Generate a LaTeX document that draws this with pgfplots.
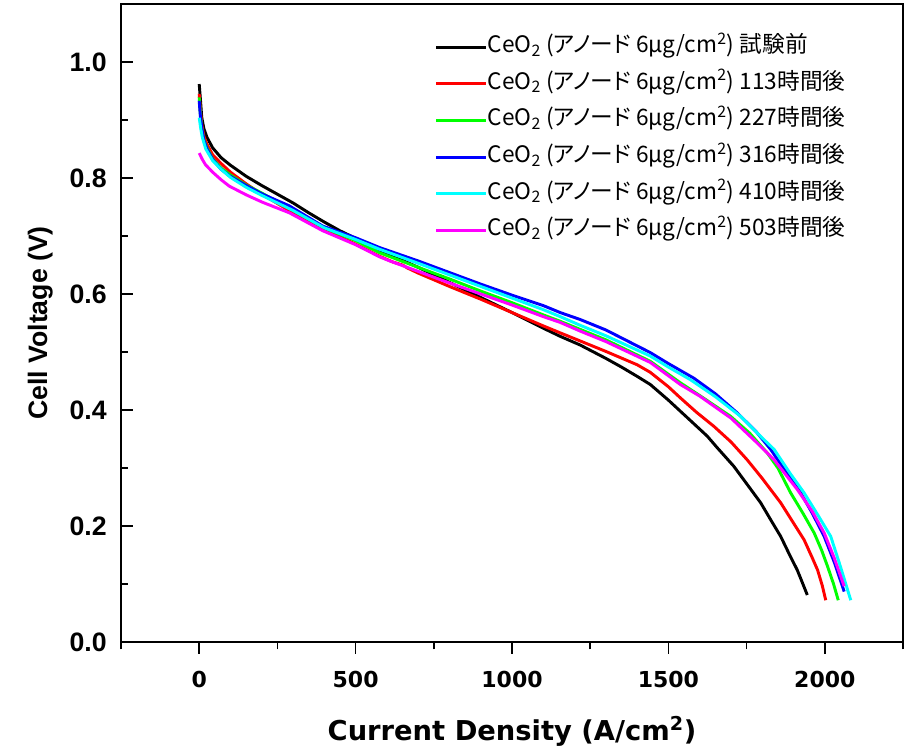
\documentclass[border=0pt]{standalone}
\usepackage{pgfplots}
\pgfplotsset{compat=1.18}
\usepackage{graphicx}
\usepackage{fontspec}
\setmainfont{Liberation Sans}
\newfontfamily\jp[RawFeature=+palt]{Noto Sans CJK JP}
\newfontfamily\dv{DejaVu Sans}
\definecolor{cRed}{RGB}{255,0,0}
\definecolor{cGreen}{RGB}{0,255,0}
\definecolor{cBlue}{RGB}{0,0,255}
\definecolor{cCyan}{RGB}{0,255,255}
\definecolor{cMag}{RGB}{255,0,255}
\newcommand{\leg}[1]{CeO\textsubscript{2} (アノード 6μg/cm\textsuperscript{2}) #1}
\begin{document}
\begin{tikzpicture}
\begin{axis}[
  name=ax,
  scale only axis,
  width=586.5pt, height=478.5pt,
  xmin=-250, xmax=2250, ymin=0, ymax=1.1,
  xtick={0,500,1000,1500,2000},
  minor xtick={-250,250,750,1250,1750,2250},
  ytick={0,0.2,0.4,0.6,0.8,1.0},
  minor ytick={0.1,0.3,0.5,0.7,0.9},
  xtick pos=bottom, ytick pos=left,
  xtick align=outside, ytick align=inside,
  major tick length=9pt, minor tick length=5.5pt,
  axis line style={line width=1.3pt},
  tick style={line width=1.3pt, black},
  /pgf/number format/assume math mode=true,
  yticklabel={\pgfmathprintnumber[fixed,fixed zerofill,precision=1]{\tick}},
  xticklabel={\pgfmathprintnumber[fixed,precision=0,1000 sep={}]{\tick}},
  yticklabel style={font=\fontsize{20}{24}\selectfont\bfseries, anchor=east, inner sep=0pt, xshift=-10.5pt},
  xticklabel style={font=\dv\fontsize{16.5}{20}\selectfont\bfseries, anchor=base, inner sep=0pt, yshift=-25.5pt},
  xlabel={Current Density (A/cm\textsuperscript{2})},
  ylabel={Cell Voltage (V)},
  xlabel style={font=\dv\fontsize{20.5}{25}\selectfont\bfseries, at={(axis description cs:0.5,0)}, anchor=base, inner sep=0pt, yshift=-74pt},
  ylabel style={font=\fontsize{20}{24}\selectfont\bfseries, at={(axis description cs:-0.0946,0.5)}, anchor=base},
  legend style={at={(axis cs:753,1.044)}, anchor=north west, draw=none, fill=none, inner sep=0pt, outer sep=0pt,
     font=\jp\fontsize{17}{20}\selectfont, row sep=11.5pt,
     nodes={inner sep=0pt, text height=12pt, text depth=4pt, xshift=4pt}},
  legend cell align=left,
  legend image code/.code={\draw[#1, line width=2.25pt] (0pt,0pt) -- (37.5pt,0pt);},
  every axis plot/.append style={line width=2.2pt},
]
\addplot[black] coordinates {(0,0.962)(4,0.935)(8,0.905)(15,0.885)(25,0.870)(43,0.852)(70,0.835)(100,0.822)(150,0.803)(200,0.787)(250,0.772)(300,0.757)(350,0.740)(400,0.724)(450,0.709)(500,0.696)(577,0.674)(650,0.658)(700,0.646)(800,0.620)(900,0.594)(1000,0.568)(1100,0.541)(1154,0.527)(1218,0.512)(1300,0.489)(1350,0.474)(1400,0.458)(1442,0.444)(1500,0.417)(1538,0.398)(1580,0.377)(1624,0.355)(1656,0.335)(1709,0.303)(1750,0.273)(1795,0.240)(1830,0.208)(1859,0.182)(1885,0.153)(1912,0.124)(1930,0.100)(1944,0.081)};
\addlegendentry{\leg{試験前}}
\addplot[cRed] coordinates {(0,0.945)(4,0.915)(8,0.893)(15,0.872)(25,0.858)(43,0.840)(70,0.825)(100,0.810)(150,0.790)(200,0.772)(300,0.740)(400,0.711)(500,0.686)(577,0.665)(620,0.655)(650,0.650)(665,0.645)(700,0.636)(800,0.613)(900,0.591)(1000,0.568)(1100,0.545)(1154,0.533)(1218,0.519)(1300,0.501)(1400,0.478)(1442,0.465)(1500,0.440)(1538,0.421)(1590,0.396)(1645,0.372)(1700,0.345)(1752,0.314)(1800,0.282)(1859,0.240)(1900,0.205)(1934,0.176)(1960,0.145)(1977,0.124)(1992,0.097)(2003,0.072)};
\addlegendentry{\leg{113時間後}}
\addplot[cGreen] coordinates {(0,0.939)(4,0.908)(8,0.887)(15,0.866)(25,0.852)(43,0.833)(70,0.817)(100,0.805)(150,0.788)(200,0.774)(300,0.744)(400,0.714)(500,0.692)(577,0.671)(700,0.646)(800,0.626)(900,0.605)(1000,0.585)(1100,0.564)(1154,0.553)(1218,0.539)(1300,0.521)(1442,0.484)(1538,0.447)(1600,0.425)(1699,0.389)(1760,0.360)(1816,0.326)(1850,0.300)(1891,0.257)(1930,0.222)(1966,0.188)(1990,0.158)(2009,0.130)(2028,0.100)(2043,0.072)};
\addlegendentry{\leg{227時間後}}
\addplot[cBlue] coordinates {(0,0.933)(4,0.905)(9,0.884)(15,0.865)(25,0.850)(43,0.832)(70,0.815)(96,0.804)(150,0.787)(203,0.772)(288,0.752)(395,0.717)(500,0.697)(577,0.680)(700,0.657)(800,0.637)(900,0.617)(1000,0.598)(1100,0.580)(1154,0.568)(1218,0.556)(1300,0.538)(1442,0.499)(1500,0.480)(1581,0.455)(1650,0.428)(1720,0.395)(1780,0.363)(1827,0.332)(1880,0.290)(1923,0.257)(1960,0.222)(1998,0.182)(2030,0.138)(2062,0.087)};
\addlegendentry{\leg{316時間後}}
\addplot[cCyan] coordinates {(0,0.904)(5,0.885)(10,0.870)(21,0.850)(43,0.830)(70,0.815)(100,0.801)(150,0.784)(200,0.770)(300,0.744)(400,0.714)(500,0.694)(577,0.677)(700,0.653)(800,0.633)(900,0.613)(1000,0.593)(1100,0.573)(1154,0.561)(1218,0.546)(1300,0.528)(1442,0.493)(1500,0.474)(1571,0.452)(1650,0.423)(1731,0.389)(1790,0.357)(1838,0.332)(1890,0.290)(1934,0.257)(1980,0.217)(2019,0.182)(2050,0.130)(2083,0.072)};
\addlegendentry{\leg{410時間後}}
\addplot[cMag] coordinates {(0,0.843)(10,0.832)(20,0.823)(43,0.810)(70,0.797)(96,0.786)(150,0.771)(203,0.758)(288,0.740)(395,0.709)(500,0.685)(577,0.664)(609,0.657)(700,0.639)(800,0.619)(900,0.600)(1000,0.581)(1100,0.561)(1154,0.551)(1218,0.536)(1300,0.518)(1442,0.482)(1538,0.444)(1600,0.424)(1700,0.386)(1780,0.345)(1838,0.314)(1912,0.263)(1960,0.225)(1998,0.188)(2030,0.145)(2062,0.096)};
\addlegendentry{\leg{503時間後}}
\end{axis}
\path ([shift={(-90.75pt,-81.75pt)}]ax.south west) rectangle ([shift={(7.5pt,3pt)}]ax.north east);
\end{tikzpicture}
\end{document}
